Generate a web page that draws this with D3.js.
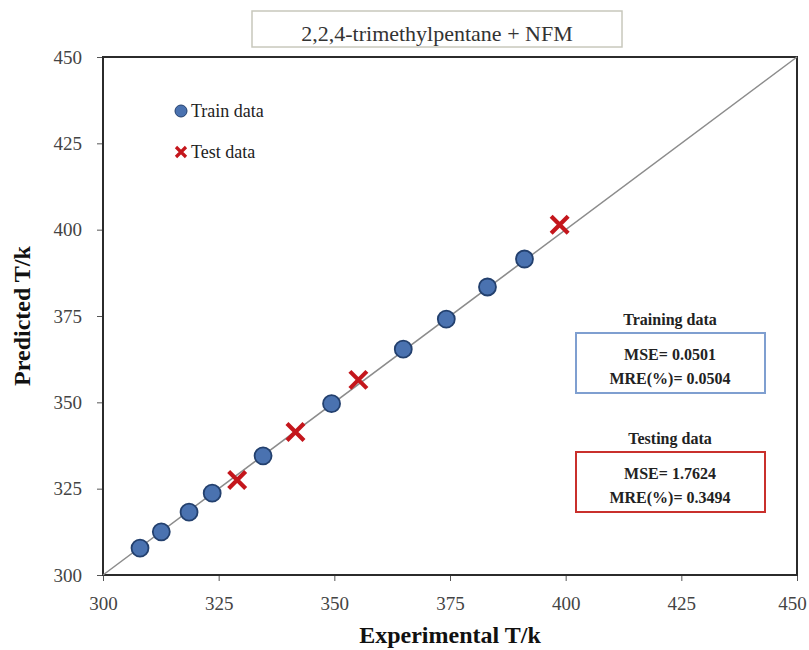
<!DOCTYPE html>
<html>
<head>
<meta charset="utf-8">
<script src="https://cdn.jsdelivr.net/npm/d3@7"></script>
<style>
  body { margin: 0; background: #fff; }
</style>
</head>
<body>
<div id="chart"></div>
<script>
// data
const trainExp  = [308.0, 312.6, 318.6, 323.6, 334.6, 349.4, 364.9, 374.2, 383.1, 391.1]
const trainPred = [307.8, 312.5, 318.2, 323.7, 334.5, 349.6, 365.4, 374.1, 383.4, 391.5]
const testExp   = [329.0, 341.6, 355.2, 398.7]
const testPred  = [327.5, 341.4, 356.5, 401.4]
const ticks = [300, 325, 350, 375, 400, 425, 450]
const trainStats = ['MSE= 0.0501', 'MRE(%)= 0.0504']
const testStats  = ['MSE= 1.7624', 'MRE(%)= 0.3494']

const W = 809, H = 650
const margin = { left: 103, right: 12, top: 57, bottom: 75 }
const SERIF = '"Liberation Serif", "Times New Roman", serif'

const svg = d3.select('#chart').append('svg')
    .attr('width', W).attr('height', H)
    .style('font-family', SERIF)

const x = d3.scaleLinear().domain([300, 450]).range([margin.left, W - margin.right])
const y = d3.scaleLinear().domain([300, 450]).range([H - margin.bottom, margin.top])

// title box
const title = svg.append('g')
title.append('rect')
    .attr('x', 252).attr('y', 11).attr('width', 370).attr('height', 36)
    .attr('fill', '#fff').attr('stroke', '#c8c8bc').attr('stroke-width', 1.5)
title.append('text')
    .attr('x', 437).attr('y', 41).attr('text-anchor', 'middle')
    .attr('font-size', 22).attr('fill', '#333').style('font-family', SERIF)
    .text('2,2,4-trimethylpentane + NFM')

// axes
svg.append('g')
    .attr('transform', `translate(0,${y(300)})`)
    .call(d3.axisBottom(x).tickValues(ticks).tickSize(6).tickSizeOuter(0))
    .call(g => g.select('.domain').remove())
    .call(g => g.selectAll('line').attr('stroke', '#555'))
    .call(g => g.selectAll('text').attr('font-size', 19).attr('fill', '#444').attr('dy', '1.35em')
        .style('font-family', SERIF))
    .call(g => g.selectAll('.tick:last-of-type text').attr('x', -5))

svg.append('g')
    .attr('transform', `translate(${x(300)},0)`)
    .call(d3.axisLeft(y).tickValues(ticks).tickSize(6).tickSizeOuter(0))
    .call(g => g.select('.domain').remove())
    .call(g => g.selectAll('line').attr('stroke', '#555'))
    .call(g => g.selectAll('text').attr('font-size', 19).attr('fill', '#444').attr('x', -21)
        .style('font-family', SERIF))

// frame
svg.append('rect')
    .attr('x', x(300)).attr('y', y(450))
    .attr('width', x(450) - x(300)).attr('height', y(300) - y(450))
    .attr('fill', 'none').attr('stroke', '#2b2b2b').attr('stroke-width', 2)

// y = x line
svg.append('line')
    .attr('x1', x(300)).attr('y1', y(300)).attr('x2', x(450)).attr('y2', y(450))
    .attr('stroke', '#8c8c8c').attr('stroke-width', 1.5)

// axis titles
svg.append('text')
    .attr('x', (x(300) + x(450)) / 2).attr('y', 643).attr('text-anchor', 'middle')
    .attr('font-size', 24).attr('font-weight', 'bold').attr('fill', '#111')
    .text('Experimental T/k')
svg.append('text')
    .attr('transform', `translate(30,${(y(300) + y(450)) / 2}) rotate(-90)`)
    .attr('text-anchor', 'middle')
    .attr('font-size', 24).attr('font-weight', 'bold').attr('fill', '#111')
    .text('Predicted T/k')

const crossPath = s => `M${-s},${-s}L${s},${s}M${-s},${s}L${s},${-s}`

// train points
svg.append('g').selectAll('circle')
    .data(trainExp.map((d, i) => [d, trainPred[i]]))
    .join('circle')
    .attr('cx', d => x(d[0])).attr('cy', d => y(d[1])).attr('r', 8.5)
    .attr('fill', '#4a72b0').attr('stroke', '#23406e').attr('stroke-width', 1.8)

// test points
svg.append('g').selectAll('path')
    .data(testExp.map((d, i) => [d, testPred[i]]))
    .join('path')
    .attr('transform', d => `translate(${x(d[0])},${y(d[1])})`)
    .attr('d', crossPath(8.5))
    .attr('stroke', '#c4161c').attr('stroke-width', 4.2).attr('fill', 'none')

// legend
const lg = svg.append('g')
lg.append('circle').attr('cx', 181).attr('cy', 111).attr('r', 6)
    .attr('fill', '#4a72b0').attr('stroke', '#23406e').attr('stroke-width', 1)
lg.append('text').attr('x', 191).attr('y', 117).attr('font-size', 18).attr('fill', '#222').text('Train data')
lg.append('path').attr('transform', 'translate(181,152)').attr('d', crossPath(5))
    .attr('stroke', '#c4161c').attr('stroke-width', 3.2)
lg.append('text').attr('x', 191).attr('y', 158).attr('font-size', 18).attr('fill', '#222').text('Test data')

// stats boxes
function statBox(label, lines, top, color){
    const g = svg.append('g')
    const cx = 670
    g.append('text').attr('x', cx).attr('y', top - 8).attr('text-anchor', 'middle')
        .attr('font-size', 16).attr('font-weight', 'bold').attr('fill', '#222').text(label)
    g.append('rect').attr('x', 576).attr('y', top).attr('width', 189).attr('height', 60)
        .attr('fill', '#fff').attr('stroke', color).attr('stroke-width', 2)
    lines.forEach((t, i) => {
        g.append('text').attr('x', cx).attr('y', top + 27 + i * 24).attr('text-anchor', 'middle')
            .attr('font-size', 16).attr('font-weight', 'bold').attr('fill', '#222').text(t)
    })
}
statBox('Training data', trainStats, 333, '#7f9fd0')
statBox('Testing data', testStats, 452, '#c9302c')
</script>
</body>
</html>
